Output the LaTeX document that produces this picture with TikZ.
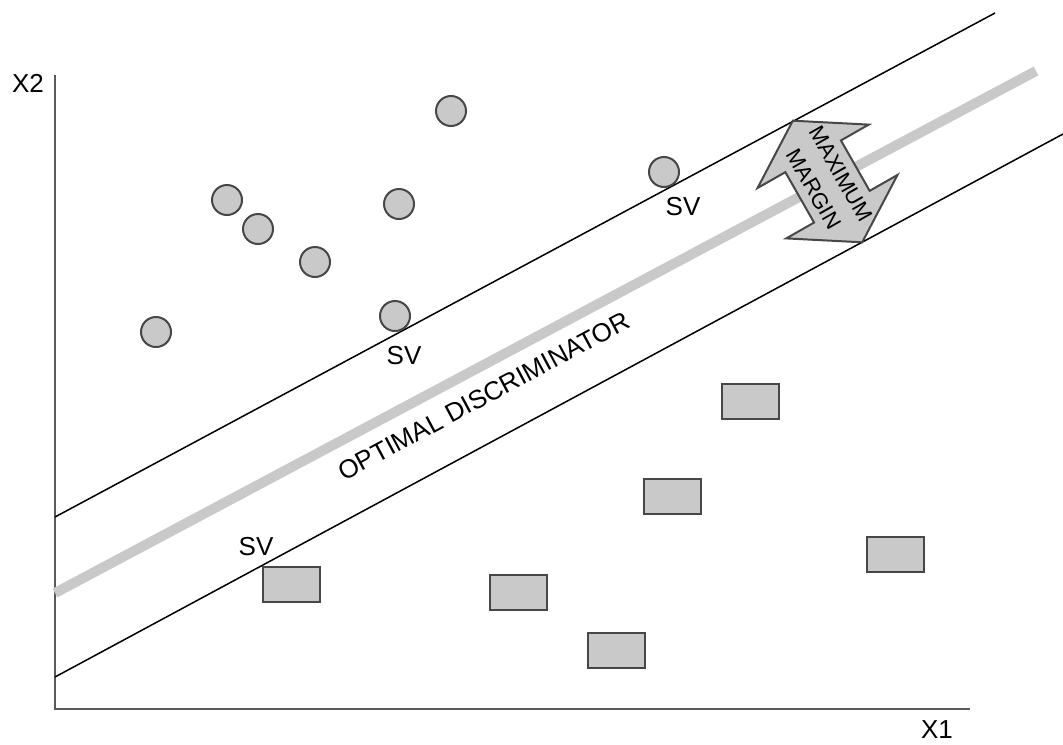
\documentclass[tikz,border=0pt]{standalone}
\usepackage{fontspec}
\setmainfont{Liberation Sans}
\usepackage{tikz}
\usetikzlibrary{shapes}
\usetikzlibrary{arrows}
\definecolor{ptfill}{gray}{0.79}
\definecolor{ptedge}{gray}{0.28}
\tikzstyle{circ}=[circle,draw=ptedge,fill=ptfill,line width=1pt,inner sep=0mm,minimum size=15pt]
\tikzstyle{box}=[rectangle,draw=ptedge,fill=ptfill,line width=1pt,inner sep=0mm,minimum width=28.5pt,minimum height=17.5pt]
\tikzstyle{axis}=[draw=black!65,line width=1.2pt]
\tikzstyle{margin}=[draw=black,line width=0.75pt]
\tikzstyle{lbl}=[inner sep=0pt,font=\fontsize{13}{15}\selectfont]

\begin{document}
\begin{tikzpicture}[x=0.5pt,y=-0.5pt]
      \useasboundingbox (0,0) rectangle (1063,744);
      \coordinate (o) at (55,709);
      \coordinate (ytop) at (55,75);
      \coordinate (xend) at (970,709);
      \draw[axis] (ytop)--(o)--(xend);
      \node[lbl] at (28,83) (x2) {X2};
      \node[lbl] at (937,730) (x1) {X1};
      % margins and discriminator
      \coordinate (u1) at (55,517);
      \coordinate (u2) at (995,13);
      \coordinate (l1) at (55,677);
      \coordinate (l2) at (1063,134);
      \coordinate (d1) at (55,593);
      \coordinate (d2) at (1036,71);
      \draw[draw=ptfill,line width=5pt] (d1)--(d2);
      \draw[margin] (u1)--(u2);
      \draw[margin] (l1)--(l2);
      \node[lbl,font=\fontsize{13}{15}\selectfont,rotate=28.2] at (484,396) (od) {OPTIMAL DISCRIMINATOR};
      % class one
      \node[circ] at (156,332) (c1) {};
      \node[circ] at (227,200) (c2) {};
      \node[circ] at (258,229) (c3) {};
      \node[circ] at (315,262) (c4) {};
      \node[circ] at (399,204) (c5) {};
      \node[circ] at (395,316) (c6) {};
      \node[circ] at (451,111) (c7) {};
      \node[circ] at (664,172) (c8) {};
      % class two
      \node[box] at (291,584) (r1) {};
      \node[box] at (518.5,592.5) (r2) {};
      \node[box] at (616.5,650.5) (r3) {};
      \node[box] at (672.5,496) (r4) {};
      \node[box] at (750,401.5) (r5) {};
      \node[box] at (895,554) (r6) {};
      \node[lbl] at (256,547) (sv1) {SV};
      \node[lbl] at (404,356) (sv2) {SV};
      \node[lbl] at (683,207) (sv3) {SV};
      % maximum margin arrow
      \begin{scope}[shift={(827.5,181.5)},rotate=-60.3]
        \draw[draw=ptedge,fill=ptfill,line width=1pt,line join=miter]
          (-70,0)--(-29,64)--(-29,32)--(29,32)--(29,64)--(70,0)
          --(29,-64)--(29,-32)--(-29,-32)--(-29,-64)--cycle;
      \end{scope}
      \node[lbl,align=center,rotate=-60.3,font=\fontsize{11}{15.5}\selectfont] at (827.5,181.5) (mm) {MAXIMUM\\MARGIN};
    \end{tikzpicture}
\end{document}
